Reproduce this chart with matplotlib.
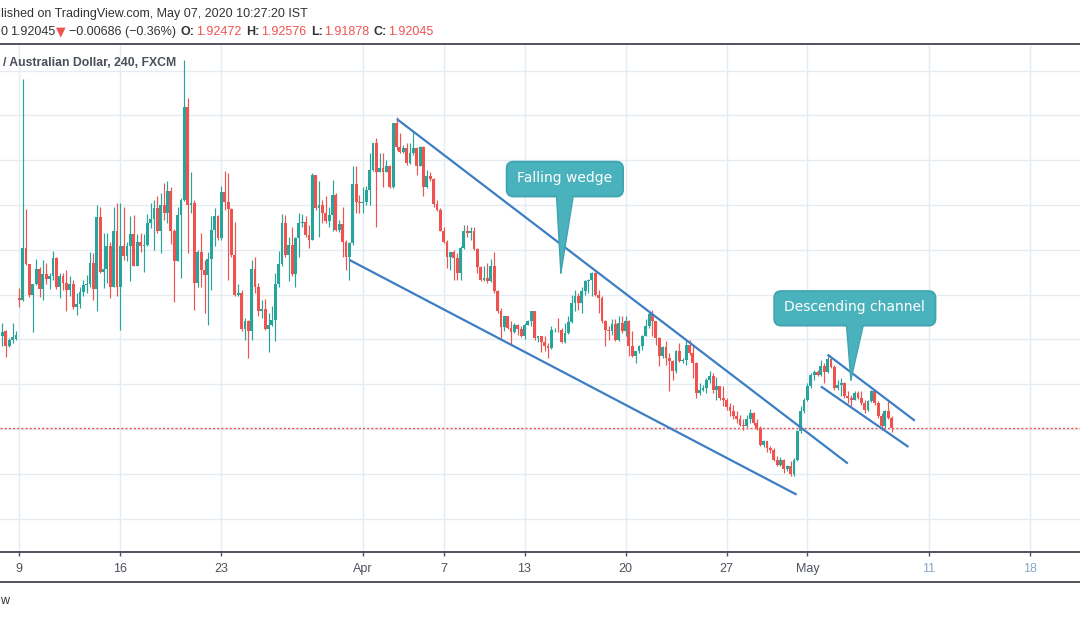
import numpy as np
import matplotlib
matplotlib.use("Agg")
import matplotlib.pyplot as plt
from matplotlib.patches import FancyBboxPatch, Polygon
from matplotlib.lines import Line2D
from matplotlib.transforms import IdentityTransform

# ---------------- data (GBPAUD, 4h candles, FXCM) ----------------
first_bar = -5          # index of first visible candle (bar 0 = Mon Mar 9 open)
bars_per_day = 6

opens = [
    1.9616, 1.9636, 1.9569, 1.9596, 1.9603, 1.9787, 1.9774, 2.0008, 1.9938, 1.9799,
    1.9848, 1.9914, 1.9825, 1.9890, 1.9869, 1.9884, 1.9963, 1.9836, 1.9881, 1.9854,
    1.9819, 1.9848, 1.9743, 1.9758, 1.9811, 1.9843, 1.9848, 1.9943, 1.9825, 2.0146,
    1.9899, 1.9914, 2.0018, 1.9836, 2.0085, 1.9836, 2.0018, 1.9973, 2.0015, 2.0071,
    1.9929, 2.0036, 2.0015, 2.0022, 2.0119, 2.0138, 2.0186, 2.0082, 2.0201, 2.0166,
    2.0263, 2.0086, 1.9952, 2.0156, 2.0223, 2.0639, 2.0201, 2.0208, 1.9854, 1.9988,
    1.9908, 1.9889, 1.9959, 2.0089, 2.0150, 2.0052, 2.0260, 2.0215, 2.0180, 1.9978,
    1.9799, 1.9807, 1.9646, 1.9680, 1.9636, 1.9914, 1.9836, 1.9725, 1.9736, 1.9646,
    1.9665, 1.9688, 1.9848, 1.9938, 2.0119, 1.9978, 2.0022, 1.9892, 2.0052, 2.0119,
    2.0122, 2.0067, 2.0045, 2.0335, 2.0186, 2.0201, 2.0166, 2.0127, 2.0156, 2.0245,
    2.0089, 2.0116, 2.0037, 1.9970, 2.0030, 2.0294, 2.0215, 2.0208, 2.0215, 2.0268,
    2.0357, 2.0476, 2.0349, 2.0364, 2.0349, 2.0372, 2.0280, 2.0565, 2.0461, 2.0438,
    2.0454, 2.0387, 2.0431, 2.0454, 2.0375, 2.0461, 2.0280, 2.0330, 2.0318, 2.0205,
    2.0178, 2.0086, 2.0037, 1.9970, 1.9988, 1.9963, 1.9896, 2.0008, 2.0085, 2.0075,
    2.0082, 2.0003, 1.9923, 1.9866, 1.9873, 1.9859, 1.9929, 1.9814, 1.9729, 1.9655,
    1.9703, 1.9651, 1.9631, 1.9665, 1.9646, 1.9613, 1.9665, 1.9680, 1.9725, 1.9606,
    1.9613, 1.9587, 1.9572, 1.9562, 1.9640, 1.9643, 1.9640, 1.9587, 1.9628, 1.9676,
    1.9762, 1.9792, 1.9762, 1.9814, 1.9859, 1.9866, 1.9896, 1.9799, 1.9785, 1.9680,
    1.9643, 1.9636, 1.9670, 1.9596, 1.9673, 1.9636, 1.9680, 1.9569, 1.9524, 1.9546,
    1.9569, 1.9616, 1.9658, 1.9715, 1.9680, 1.9606, 1.9524, 1.9566, 1.9517, 1.9502,
    1.9457, 1.9546, 1.9502, 1.9509, 1.9576, 1.9539, 1.9495, 1.9361, 1.9376, 1.9383,
    1.9420, 1.9438, 1.9376, 1.9390, 1.9339, 1.9331, 1.9298, 1.9279, 1.9257, 1.9243,
    1.9220, 1.9212, 1.9243, 1.9272, 1.9227, 1.9205, 1.9128, 1.9145, 1.9116, 1.9108,
    1.9063, 1.9041, 1.9063, 1.9022, 1.9034, 1.8997, 1.9063, 1.9190, 1.9279, 1.9331,
    1.9390, 1.9443, 1.9453, 1.9443, 1.9483, 1.9453, 1.9512, 1.9477, 1.9383, 1.9398,
    1.9407, 1.9346, 1.9339, 1.9331, 1.9361, 1.9339, 1.9316, 1.9286, 1.9323, 1.9368,
    1.9316, 1.9257, 1.9212, 1.9279, 1.92472,
]
highs = [
    1.9674, 1.9643, 1.9607, 1.9673, 1.9639, 1.9831, 2.0763, 2.0183, 1.9938, 1.9848,
    1.9960, 1.9924, 1.9955, 1.9942, 1.9898, 1.9996, 1.9970, 1.9898, 1.9898, 1.9908,
    1.9881, 1.9863, 1.9807, 1.9836, 1.9866, 1.9889, 1.9988, 1.9985, 2.0201, 2.0193,
    2.0075, 2.0077, 2.0037, 2.0193, 2.0208, 2.0208, 2.0193, 2.0037, 2.0150, 2.0156,
    2.0071, 2.0075, 2.0071, 2.0161, 2.0208, 2.0223, 2.0241, 2.0253, 2.0300, 2.0305,
    2.0282, 2.0092, 2.0193, 2.0231, 2.0847, 2.0677, 2.0349, 2.0223, 2.0000, 2.0075,
    1.9955, 1.9988, 2.0150, 2.0186, 2.0156, 2.0285, 2.0352, 2.0342, 2.0186, 2.0123,
    1.9848, 1.9822, 1.9695, 1.9688, 1.9955, 1.9970, 1.9851, 1.9777, 1.9780, 1.9718,
    1.9747, 1.9896, 1.9996, 2.0161, 2.0156, 2.0057, 2.0104, 2.0059, 2.0164, 2.0161,
    2.0150, 2.0111, 2.0342, 2.0336, 2.0309, 2.0223, 2.0242, 2.0193, 2.0312, 2.0253,
    2.0134, 2.0193, 2.0045, 2.0035, 2.0375, 2.0375, 2.0245, 2.0282, 2.0285, 2.0431,
    2.0479, 2.0498, 2.0431, 2.0434, 2.0401, 2.0379, 2.0568, 2.0592, 2.0520, 2.0468,
    2.0476, 2.0476, 2.0528, 2.0460, 2.0465, 2.0464, 2.0357, 2.0348, 2.0322, 2.0223,
    2.0186, 2.0104, 2.0045, 1.9989, 2.0000, 1.9985, 2.0015, 2.0111, 2.0111, 2.0104,
    2.0102, 2.0008, 1.9926, 1.9926, 1.9941, 1.9959, 1.9989, 1.9822, 1.9740, 1.9706,
    1.9706, 1.9680, 1.9673, 1.9670, 1.9661, 1.9673, 1.9688, 1.9727, 1.9729, 1.9616,
    1.9616, 1.9613, 1.9584, 1.9658, 1.9652, 1.9695, 1.9651, 1.9673, 1.9703, 1.9799,
    1.9822, 1.9808, 1.9834, 1.9866, 1.9870, 1.9899, 1.9902, 1.9822, 1.9795, 1.9688,
    1.9658, 1.9691, 1.9691, 1.9703, 1.9703, 1.9706, 1.9688, 1.9636, 1.9549, 1.9576,
    1.9621, 1.9691, 1.9729, 1.9732, 1.9684, 1.9610, 1.9569, 1.9591, 1.9539, 1.9509,
    1.9554, 1.9584, 1.9518, 1.9599, 1.9599, 1.9576, 1.9500, 1.9405, 1.9398, 1.9428,
    1.9457, 1.9450, 1.9432, 1.9393, 1.9390, 1.9340, 1.9316, 1.9309, 1.9279, 1.9264,
    1.9243, 1.9264, 1.9290, 1.9275, 1.9243, 1.9212, 1.9153, 1.9148, 1.9123, 1.9116,
    1.9078, 1.9073, 1.9066, 1.9041, 1.9056, 1.9071, 1.9197, 1.9301, 1.9339, 1.9405,
    1.9450, 1.9465, 1.9462, 1.9509, 1.9495, 1.9532, 1.9522, 1.9487, 1.9420, 1.9429,
    1.9411, 1.9368, 1.9353, 1.9368, 1.9368, 1.9368, 1.9331, 1.9331, 1.9376, 1.9371,
    1.9323, 1.9272, 1.9283, 1.9331, 1.92576,
]
lows = [
    1.9572, 1.9520, 1.9567, 1.9584, 1.9599, 1.9746, 1.9773, 1.9933, 1.9790, 1.9631,
    1.9844, 1.9790, 1.9777, 1.9848, 1.9826, 1.9866, 1.9825, 1.9786, 1.9822, 1.9729,
    1.9792, 1.9737, 1.9707, 1.9740, 1.9792, 1.9807, 1.9836, 1.9777, 1.9725, 1.9896,
    1.9829, 1.9854, 1.9785, 1.9834, 1.9795, 1.9643, 1.9955, 1.9948, 1.9859, 1.9926,
    1.9926, 1.9989, 1.9903, 2.0015, 2.0097, 1.9997, 2.0077, 1.9985, 2.0134, 2.0119,
    2.0025, 1.9765, 1.9948, 1.9873, 2.0219, 1.9987, 2.0165, 1.9732, 1.9836, 1.9834,
    1.9718, 1.9665, 1.9822, 2.0015, 2.0045, 2.0045, 2.0178, 1.9866, 1.9970, 1.9792,
    1.9792, 1.9636, 1.9599, 1.9517, 1.9596, 1.9807, 1.9703, 1.9695, 1.9640, 1.9542,
    1.9658, 1.9591, 1.9836, 1.9929, 1.9970, 1.9859, 1.9881, 1.9834, 1.9970, 2.0104,
    2.0059, 2.0010, 2.0042, 2.0178, 2.0059, 2.0119, 2.0119, 2.0104, 2.0086, 2.0082,
    2.0080, 1.9970, 1.9911, 1.9866, 2.0022, 2.0165, 2.0165, 2.0164, 2.0201, 2.0201,
    2.0352, 2.0104, 2.0348, 2.0282, 2.0348, 2.0275, 2.0277, 2.0446, 2.0431, 2.0433,
    2.0379, 2.0383, 2.0424, 2.0335, 2.0372, 2.0238, 2.0275, 2.0308, 2.0193, 2.0171,
    2.0082, 2.0030, 1.9918, 1.9911, 1.9866, 1.9866, 1.9866, 2.0005, 2.0059, 2.0045,
    2.0000, 1.9896, 1.9859, 1.9859, 1.9851, 1.9857, 1.9807, 1.9718, 1.9599, 1.9636,
    1.9646, 1.9576, 1.9628, 1.9621, 1.9611, 1.9602, 1.9663, 1.9658, 1.9599, 1.9587,
    1.9542, 1.9546, 1.9517, 1.9557, 1.9634, 1.9631, 1.9584, 1.9584, 1.9625, 1.9673,
    1.9725, 1.9732, 1.9718, 1.9799, 1.9807, 1.9792, 1.9792, 1.9718, 1.9673, 1.9569,
    1.9599, 1.9621, 1.9591, 1.9591, 1.9628, 1.9613, 1.9524, 1.9522, 1.9495, 1.9539,
    1.9554, 1.9613, 1.9651, 1.9613, 1.9576, 1.9483, 1.9517, 1.9487, 1.9368, 1.9420,
    1.9450, 1.9499, 1.9496, 1.9487, 1.9532, 1.9429, 1.9339, 1.9353, 1.9368, 1.9361,
    1.9405, 1.9361, 1.9331, 1.9331, 1.9301, 1.9286, 1.9257, 1.9243, 1.9227, 1.9212,
    1.9197, 1.9209, 1.9227, 1.9220, 1.9197, 1.9123, 1.9119, 1.9098, 1.9093, 1.9056,
    1.9034, 1.9037, 1.9004, 1.9014, 1.8989, 1.8992, 1.9056, 1.9182, 1.9272, 1.9323,
    1.9383, 1.9420, 1.9435, 1.9435, 1.9405, 1.9450, 1.9474, 1.9376, 1.9376, 1.9346,
    1.9339, 1.9316, 1.9301, 1.9328, 1.9335, 1.9309, 1.9272, 1.9279, 1.9319, 1.9309,
    1.9249, 1.9197, 1.9205, 1.9246, 1.91878,
]
closes = [
    1.9631, 1.9569, 1.9599, 1.9609, 1.9621, 1.9774, 2.0008, 1.9935, 1.9799, 1.9848,
    1.9914, 1.9825, 1.9890, 1.9869, 1.9884, 1.9963, 1.9836, 1.9881, 1.9854, 1.9819,
    1.9848, 1.9743, 1.9758, 1.9811, 1.9843, 1.9848, 1.9943, 1.9825, 2.0146, 1.9899,
    1.9914, 2.0018, 1.9836, 2.0085, 1.9836, 2.0018, 1.9973, 2.0015, 2.0071, 1.9929,
    2.0036, 2.0015, 2.0022, 2.0119, 2.0138, 2.0186, 2.0082, 2.0201, 2.0166, 2.0263,
    2.0086, 1.9952, 2.0156, 2.0223, 2.0639, 2.0201, 2.0208, 1.9854, 1.9988, 1.9908,
    1.9889, 1.9959, 2.0089, 2.0150, 2.0052, 2.0260, 2.0215, 2.0180, 1.9978, 1.9799,
    1.9807, 1.9646, 1.9680, 1.9636, 1.9914, 1.9836, 1.9725, 1.9736, 1.9646, 1.9665,
    1.9688, 1.9848, 1.9938, 2.0119, 1.9978, 2.0022, 1.9892, 2.0052, 2.0119, 2.0122,
    2.0067, 2.0045, 2.0335, 2.0186, 2.0201, 2.0166, 2.0127, 2.0156, 2.0245, 2.0089,
    2.0116, 2.0037, 1.9970, 2.0030, 2.0294, 2.0215, 2.0208, 2.0215, 2.0268, 2.0357,
    2.0476, 2.0349, 2.0364, 2.0349, 2.0372, 2.0280, 2.0565, 2.0461, 2.0438, 2.0454,
    2.0387, 2.0431, 2.0454, 2.0375, 2.0461, 2.0280, 2.0330, 2.0318, 2.0205, 2.0178,
    2.0086, 2.0037, 1.9970, 1.9988, 1.9963, 1.9896, 2.0008, 2.0085, 2.0075, 2.0082,
    2.0003, 1.9923, 1.9866, 1.9873, 1.9859, 1.9929, 1.9814, 1.9729, 1.9655, 1.9703,
    1.9651, 1.9631, 1.9665, 1.9646, 1.9613, 1.9665, 1.9680, 1.9725, 1.9606, 1.9613,
    1.9587, 1.9572, 1.9562, 1.9640, 1.9643, 1.9640, 1.9587, 1.9628, 1.9676, 1.9762,
    1.9792, 1.9762, 1.9814, 1.9859, 1.9866, 1.9896, 1.9799, 1.9785, 1.9680, 1.9643,
    1.9636, 1.9670, 1.9596, 1.9673, 1.9636, 1.9680, 1.9569, 1.9524, 1.9546, 1.9569,
    1.9616, 1.9658, 1.9715, 1.9680, 1.9606, 1.9524, 1.9566, 1.9517, 1.9502, 1.9457,
    1.9546, 1.9502, 1.9509, 1.9576, 1.9539, 1.9495, 1.9361, 1.9376, 1.9383, 1.9420,
    1.9438, 1.9376, 1.9390, 1.9339, 1.9331, 1.9298, 1.9279, 1.9257, 1.9243, 1.9220,
    1.9212, 1.9243, 1.9272, 1.9227, 1.9205, 1.9128, 1.9145, 1.9116, 1.9108, 1.9063,
    1.9041, 1.9063, 1.9022, 1.9034, 1.8997, 1.9063, 1.9190, 1.9279, 1.9331, 1.9390,
    1.9443, 1.9453, 1.9443, 1.9483, 1.9453, 1.9512, 1.9477, 1.9383, 1.9398, 1.9407,
    1.9346, 1.9339, 1.9331, 1.9361, 1.9339, 1.9316, 1.9286, 1.9323, 1.9368, 1.9316,
    1.9257, 1.9212, 1.9279, 1.92472, 1.92045,
]

# x axis: trading days since Mon Mar 9 (weekends skipped)
tick_days = [0, 5, 10, 17, 21, 25, 30, 35, 39, 45, 50]
tick_labels = ['9', '16', '23', 'Apr', '7', '13', '20', '27', 'May', '11', '18']
future_labels = ['11', '18']

price_grid = [1.88, 1.90, 1.92, 1.94, 1.96, 1.98, 2.00, 2.02, 2.04, 2.06, 2.08]
last_price = 1.92045

# drawn trend lines: (bar, price) end points
wedge_upper = [(112.1, 2.0584), (246.0, 1.9046)]
wedge_lower = [(98.0, 1.9955), (230.8, 1.8907)]
channel_upper = [(240.0, 1.9532), (265.9, 1.9237)]
channel_lower = [(238.0, 1.9390), (264.0, 1.9120)]

callout_texts = ['Falling wedge', 'Descending channel']
callout_tips = [(160.8, 1.9897), (246.9, 1.9419)]

# header texts (as visible in the cropped screenshot)
header_line1 = "lished on TradingView.com, May 07, 2020 10:27:20 IST"
symbol_tail = "0"
last_text = "1.92045"
change_text = "\u22120.00686 (\u22120.36%)"
ohlc_labels = ['O:', 'H:', 'L:', 'C:']
ohlc_values = ['1.92472', '1.92576', '1.91878', '1.92045']
chart_title = "/ Australian Dollar, 240, FXCM"
footer_tail = "w"

# ---------------- style ----------------
GREEN = '#26a69a'
RED = '#ef5350'
GRID = '#e4ecf2'
AXIS = '#50535e'
TREND = '#3c7ec4'
CALL_FILL = '#4ab2bd'
CALL_EDGE = '#3ea3ae'
TEXT = '#333333'

W, H = 1080, 618
fig = plt.figure(figsize=(W / 100, H / 100), dpi=100)
fig.patch.set_facecolor('white')
ax_top_px, ax_bot_px = 43.5, 552
ax = fig.add_axes([0, 1 - ax_bot_px / H, 1, (ax_bot_px - ax_top_px) / H])

px_per_bar = 3.368
x0_px = 19.3
ax.set_xlim(-x0_px / px_per_bar, (W - x0_px) / px_per_bar)
ax.set_ylim(1.86509, 2.0921)

bars = np.arange(first_bar, first_bar + len(closes))
o = np.array(opens); h = np.array(highs); l = np.array(lows); c = np.array(closes)
colors = np.where(c >= o, GREEN, RED)

ax.vlines(bars, np.minimum(l, np.minimum(o, c)), np.maximum(h, np.maximum(o, c)),
          colors=colors, lw=0.85, zorder=3)
body_bottom = np.minimum(o, c)
body_height = np.maximum(np.abs(c - o), 0.00035)
ax.bar(bars, body_height, bottom=body_bottom, width=0.84, color=colors,
       linewidth=0, zorder=4)

# grid / axes
ax.set_yticks(price_grid)
tick_bars = [d * bars_per_day for d in tick_days]
ax.set_xticks(tick_bars)
ax.set_xticklabels(tick_labels)
ax.grid(True, color=GRID, lw=1.0, zorder=0)
ax.set_axisbelow(True)
ax.tick_params(axis='y', length=0, labelleft=False)
ax.tick_params(axis='x', length=3, width=1, color=AXIS, pad=5.0,
               labelsize=9, labelcolor='#4c525e')
for lab in ax.get_xticklabels():
    lab.set_family(['Liberation Sans Narrow', 'Liberation Sans'])
    if lab.get_text() in future_labels:
        lab.set_color('#8aa6c6')
for s in ['left', 'right']:
    ax.spines[s].set_visible(False)
for s in ['top', 'bottom']:
    ax.spines[s].set_color(AXIS)
    ax.spines[s].set_linewidth(1.4)

# bottom line of time scale
fig.add_artist(Line2D([0, 1], [1 - 581.5 / H] * 2, color=AXIS, lw=1.4))

# last price line
ax.axhline(last_price, color=RED, lw=1.0, ls=(0, (1.5, 1.5)), zorder=5)

# trend lines
for seg in [wedge_upper, wedge_lower, channel_upper, channel_lower]:
    xs, ys = zip(*seg)
    ax.plot(xs, ys, color=TREND, lw=1.6, solid_capstyle='butt', zorder=6)

# callouts (box geometry in pixels, anchored on the tip point)
callout_geom = [
    dict(w=116.6, h=35.0, dx=4.0, lift=93.8),
    dict(w=161.4, h=34.7, dx=4.0, lift=71.6),
]
for text, (tb, tp), g in zip(callout_texts, callout_tips, callout_geom):
    tx, ty = ax.transData.transform((tb, tp))
    cx, cy = tx + g['dx'], ty + g['lift']
    x0, y0 = cx - g['w'] / 2, cy - g['h'] / 2
    box = FancyBboxPatch((x0, y0), g['w'], g['h'],
                         boxstyle='round,pad=0,rounding_size=7',
                         transform=IdentityTransform(), fc=CALL_FILL,
                         ec=CALL_EDGE, lw=1.2, zorder=10, clip_on=False)
    ax.add_artist(box)
    bl, br = tx - 4.3, tx + 12.3
    tri = Polygon([(bl, y0 + 2), (br, y0 + 2), (tx, ty)], closed=True,
                  transform=IdentityTransform(), fc=CALL_FILL, ec='none',
                  zorder=11, clip_on=False)
    ax.add_artist(tri)
    for bx in (bl, br):
        ax.add_artist(Line2D([bx, tx], [y0, ty], color=CALL_EDGE, lw=1.0,
                             transform=IdentityTransform(), zorder=12))
    ax.text(cx, cy + 1, text, transform=IdentityTransform(), ha='center',
            va='center', color='white', fontsize=10, family='DejaVu Sans',
            zorder=13)

# ---------------- header texts ----------------
renderer = fig.canvas.get_renderer()


def fx(px):
    return px / W


def fy(py):
    return 1 - py / H


def fitted_text(txt, x_left, x_right, y_base, size, **kw):
    """Left-aligned text whose font size is scaled to span x_left..x_right."""
    t = fig.text(fx(x_left), fy(y_base), txt, ha='left', va='baseline',
                 fontsize=size, **kw)
    wpx = t.get_window_extent(renderer).width
    t.set_fontsize(size * (x_right - x_left) / wpx)
    return t


fitted_text(header_line1, 1.0, 309, 16.7, 9, color=TEXT, family='Liberation Sans')
hdr_size = 9.0
fig.text(fx(0.5), fy(35), symbol_tail, ha='left', va='baseline',
         fontsize=hdr_size, color=TEXT, family='Liberation Sans')

segments = [(last_text, TEXT, 'normal', 'Liberation Sans', 0),
            ('\u25bc', RED, 'normal', 'DejaVu Sans', 1),
            (change_text, TEXT, 'normal', 'Liberation Sans', 3)]
for lab, val in zip(ohlc_labels, ohlc_values):
    segments.append((lab, TEXT, 'bold', 'Liberation Sans', 5))
    segments.append((val, RED, 'normal', 'Liberation Sans', 1))
xcur = 10.0
for txt, col, wt, fam, gap in segments:
    xcur += gap
    t = fig.text(fx(xcur), fy(35), txt, ha='left', va='baseline', fontsize=hdr_size,
                 color=col, fontweight=wt, family=fam)
    xcur = t.get_window_extent(renderer).x1

fitted_text(chart_title, 3.0, 176, 65.5, 9, fontweight='bold', color='#4a4f59',
            family='Liberation Sans')

fig.text(fx(0.5), fy(604), footer_tail, ha='left', va='baseline',
         fontsize=9, color=TEXT, family='Liberation Sans')

fig.savefig('out.png', dpi=100, facecolor='white')
